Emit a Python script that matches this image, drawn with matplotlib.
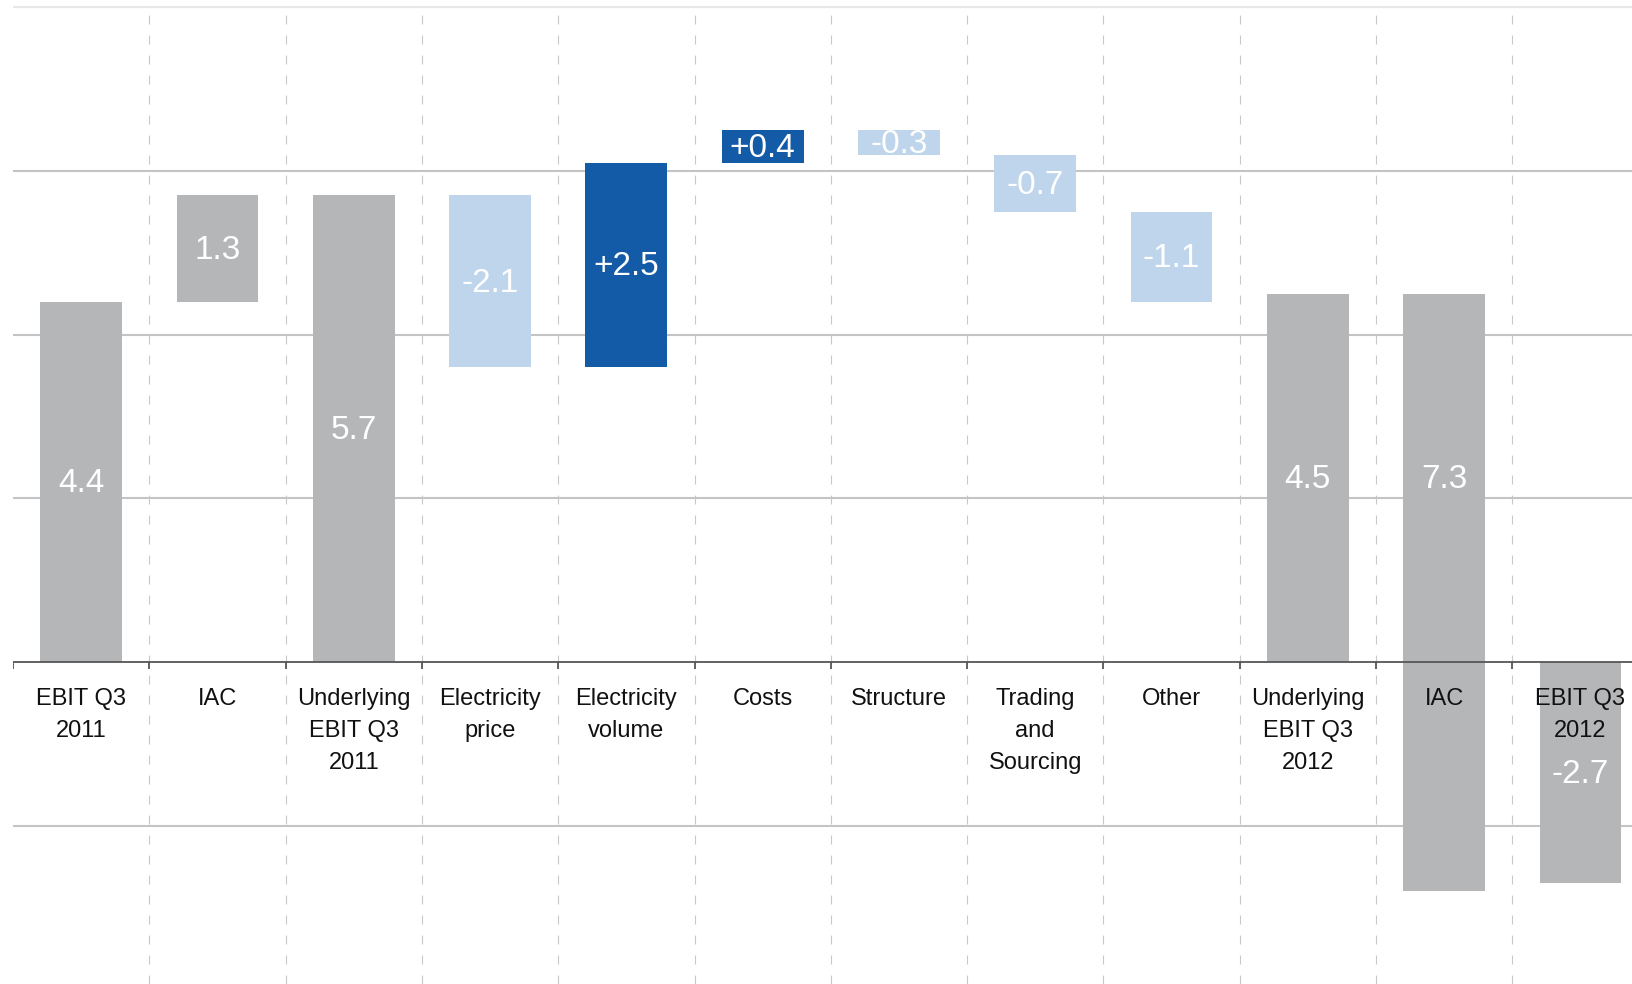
import matplotlib
matplotlib.use("Agg")
import matplotlib.pyplot as plt

plt.rcParams["font.family"] = ["Liberation Sans", "DejaVu Sans"]

# EBIT bridge Q3 2011 -> Q3 2012 (EUR bn)
categories = [
    "EBIT Q3\n2011", "IAC", "Underlying\nEBIT Q3\n2011", "Electricity\nprice",
    "Electricity\nvolume", "Costs", "Structure", "Trading\nand\nSourcing",
    "Other", "Underlying\nEBIT Q3\n2012", "IAC", "EBIT Q3\n2012",
]
values = [4.4, 1.3, 5.7, -2.1, 2.5, 0.4, -0.3, -0.7, -1.1, 4.5, -7.3, -2.7]
kinds = ["total", "iac", "total", "delta", "delta", "delta", "delta", "delta",
         "delta", "total", "iac", "total"]
value_labels = ["4.4", "1.3", "5.7", "-2.1", "+2.5", "+0.4", "-0.3", "-0.7",
                "-1.1", "4.5", "7.3", "-2.7"]
grid_values = [-2, 2, 4, 6]

GREY = "#b5b6b8"
LIGHT_BLUE = "#bed5ec"
DARK_BLUE = "#145ba7"

W, H = 1632, 984
fig = plt.figure(figsize=(W / 100, H / 100), dpi=100)
ax = fig.add_axes([13 / W, 0, 1635.6 / W, 1])
ax.set_xlim(0, len(categories))
ax.set_ylim(-3.93, 8.087)
ax.axis("off")

# horizontal grid
for g in grid_values:
    ax.axhline(g, color="#c4c4c4", lw=1.5, zorder=1)
ax.axhline(8, color="#e8e8e8", lw=1.6, zorder=1)

# dashed column separators
ax.vlines(range(1, len(categories)), -3.93, 7.97, colors="#c8c8c8",
          lw=0.8, linestyles=(0, (8, 10)), zorder=1)

# waterfall bars
level = 0.0
for i, (v, kind, lab) in enumerate(zip(values, kinds, value_labels)):
    if kind == "total":
        bottom, top = 0.0, v
        color = GREY
    else:
        bottom, top = level, level + v
        if kind == "iac":
            color = GREY
        else:
            color = DARK_BLUE if v > 0 else LIGHT_BLUE
    level = top
    lo, hi = min(bottom, top), max(bottom, top)
    rect = ax.bar(i + 0.5, hi - lo, bottom=lo, width=0.6, color=color,
                  zorder=2)[0]
    if lo < 0 < hi:
        ly = hi / 2
    else:
        ly = (lo + hi) / 2
    t = ax.text(i + 0.5, ly + 0.02, lab, ha="center", va="center_baseline",
                color="white", fontsize=24, zorder=4)
    t.set_clip_path(rect)

# zero axis with ticks
ax.axhline(0, color="#555555", lw=1.3, zorder=3)
ax.vlines(range(0, len(categories)), -0.085, 0, colors="#555555", lw=1.3,
          zorder=3)

# category labels
for i, c in enumerate(categories):
    ax.text(i + 0.5, -0.32, c, ha="center", va="top", fontsize=17,
            color="#111111", linespacing=1.58, zorder=5)

fig.savefig("out.png", dpi=100)
